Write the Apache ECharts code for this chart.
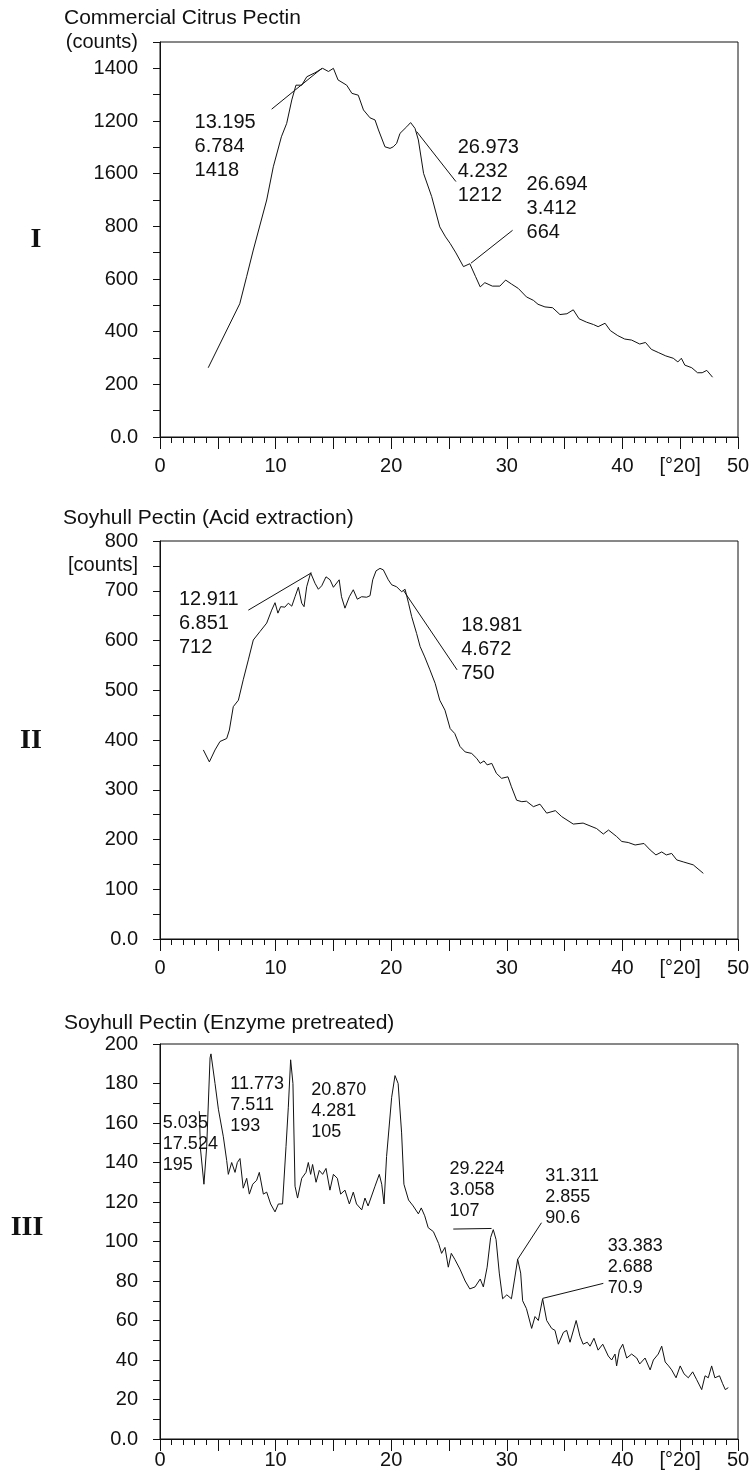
<!DOCTYPE html>
<html>
<head>
<meta charset="utf-8">
<script src="https://cdn.jsdelivr.net/npm/echarts@6/dist/echarts.min.js"></script>
<style>
html,body{margin:0;padding:0;background:#fff;}
#chart{width:753px;height:1480px;}
</style>
</head>
<body>
<div id="chart"></div>
<script>
// I : Commercial Citrus Pectin
var x1 = [4.17,6.9,7.5,8.07,9.23,9.8,10.5,10.96,11.4,11.76,12.26,12.7,13.4,14.07,14.57,15.0,15.4,16.15,16.6,17.15,17.6,18.17,18.6,18.9,19.46,19.9,20.18,20.47,20.76,21.34,21.68,22.06,22.35,22.8,23.5,24.2,24.7,25.1,25.6,26.25,26.8,27.3,27.7,28.1,28.75,29.4,29.9,30.4,31.0,31.7,32.3,32.7,33.3,33.96,34.6,35.2,35.75,36.25,36.9,37.5,37.9,38.5,38.96,39.6,40.2,40.8,41.5,42.0,42.5,43.1,43.75,44.4,44.8,45.1,45.4,46.0,46.5,46.9,47.3,47.8];
var y1 = [263,506,610,710,900,1026,1140,1191,1280,1336,1336,1368,1383,1400,1388,1400,1356,1336,1305,1298,1242,1212,1204,1166,1102,1096,1102,1115,1153,1178,1194,1172,1128,1001,913,798,760,735,699,647,658,609,570,586,573,573,596,581,564,532,519,504,494,491,465,468,483,449,436,427,419,432,404,385,372,368,353,359,333,321,308,299,285,299,273,263,244,244,253,227];

// II : Soyhull Pectin (Acid extraction)
var x2 = [3.75,4.27,4.76,5.19,5.77,6.0,6.34,6.78,7.2,7.64,8.07,8.65,9.23,9.66,9.95,10.2,10.44,10.8,11.1,11.4,11.68,11.97,12.26,12.46,12.69,13.03,13.41,13.7,13.99,14.36,14.71,15.0,15.5,15.7,16.0,16.38,16.72,17.07,17.44,17.88,18.17,18.4,18.69,19.03,19.32,19.75,20.04,20.47,20.9,21.2,21.5,21.77,22.2,22.5,22.9,23.35,23.8,24.2,24.65,25.1,25.5,25.95,26.4,26.96,27.4,27.7,28.03,28.3,28.7,29.1,29.55,30.1,30.4,30.85,31.3,31.7,32.3,32.87,33.45,34.2,34.75,35.75,36.6,37.77,38.35,38.8,39.5,39.95,40.5,41.1,41.87,42.4,42.9,43.4,43.8,44.26,44.7,45.26,46.13,47.0];
var y2 = [380,356,380,397,403,420,467,480,521,561,601,618,635,661,676,655,668,667,675,669,688,707,675,668,708,736,715,703,710,728,722,707,722,688,665,688,702,683,688,687,690,722,740,745,742,722,712,708,698,703,675,648,614,588,567,541,514,480,460,423,413,387,376,373,363,353,358,350,353,333,323,326,306,279,276,277,266,271,253,258,246,231,233,222,211,219,206,196,194,189,192,179,169,175,169,172,159,155,149,132];

// III : Soyhull Pectin (Enzyme pretreated)
var x3 = [3.4,3.5,3.8,4.04,4.33,4.41,4.76,5.05,5.48,5.77,5.91,6.2,6.49,6.69,6.92,7.2,7.5,7.73,8.02,8.36,8.59,8.94,9.23,9.57,9.95,10.24,10.6,10.9,11.1,11.3,11.5,11.68,11.9,12.26,12.63,12.83,13.03,13.2,13.5,13.78,14.07,14.36,14.7,15.0,15.34,15.63,16.0,16.38,16.72,17.0,17.45,17.73,18.0,18.6,18.97,19.18,19.38,19.6,20.04,20.33,20.6,20.9,21.1,21.5,21.9,22.35,22.6,22.9,23.2,23.65,24.1,24.36,24.65,24.94,25.2,25.5,25.95,26.4,26.8,27.25,27.7,27.97,28.3,28.6,28.83,29.07,29.35,29.64,30.0,30.4,30.7,30.94,31.2,31.37,31.7,32.15,32.44,32.73,33.1,33.45,33.88,34.17,34.46,34.9,35.18,35.47,36.0,36.33,36.6,36.96,37.2,37.54,37.9,38.3,38.78,39.07,39.36,39.5,39.74,40.03,40.37,40.8,41.24,41.5,41.96,42.4,42.68,43.1,43.4,43.7,44.0,44.26,44.64,45.0,45.33,45.7,46.08,46.43,46.86,47.15,47.43,47.72,48.0,48.4,48.67,48.9,49.16];
var y3 = [166,147,129,148,193,195,180,167,153,141,134,140,135,140,142,127,132,124,129,131,135,124,125,119,115,119,119,148,168,192,180,128,122,132,135,140,134,139,130,136,134,137,126,134,132,124,126,119,125,119,116,122,118,128,134,129,119,143,173,184,180,155,129,121,118,114,117,113,107,105,99,94,97,87,94,91,86,80,76,77,81,77,87,102,106,101,84,71,73,71,82,91,84,70,66,56,62,60,71,60,56,55,48,54,55,49,60,52,48,49,47,51,45,48,42,40,43,37,45,48,41,43,41,38,41,35,40,43,47,39,37,35,31,37,33,31,34,30,25,32,31,37,31,32,28,25,26];

// tick labels
var xTickVals = [0,10,20,30,40,45,50];
var xTickTexts = ['0','10','20','30','40','[°20]','50'];
var yTickVals1 = [0,200,400,600,800,1000,1200,1400,1500];
var yTickTexts1 = ['0.0','200','400','600','800','1600','1200','1400','(counts)'];
var yTickVals2 = [0,100,200,300,400,500,600,700,750,800];
var yTickTexts2 = ['0.0','100','200','300','400','500','600','700','[counts]','800'];
var yTickVals3 = [0,20,40,60,80,100,120,140,160,180,190,200];
var yTickTexts3 = ['0.0','20','40','60','80','100','120','140','160','180','[counts]','200'];

// peak notes
var notes1 = ['13.195\n6.784\n1418','26.973\n4.232\n1212','26.694\n3.412\n664'];
var notes2 = ['12.911\n6.851\n712','18.981\n4.672\n750'];
var notes3 = ['5.035\n17.524\n195','11.773\n7.511\n193','20.870\n4.281\n105','29.224\n3.058\n107','31.311\n2.855\n90.6','33.383\n2.688\n70.9'];

var FONT = '"Liberation Sans", Arial, sans-serif';
var INK = '#111';

function zip(xs, ys){
	var out = [];
	for (var i = 0; i < xs.length; i++) out.push([xs[i], ys[i]]);
	return out;
}
function pick(vals, texts){
	return function(v){
		for (var i = 0; i < vals.length; i++) if (Math.abs(vals[i] - v) < 1e-6) return texts[i];
		return '';
	};
}
function noteMarks(texts, anchors, lh, size){
	var d = [];
	for (var i = 0; i < texts.length; i++) {
		d.push({coord: anchors[i], label: {formatter: texts[i]}});
	}
	return {
		symbol: 'circle', symbolSize: 1, silent: true,
		itemStyle: {color: 'rgba(0,0,0,0)'},
		label: {show: true, position: [0, 0], align: 'left', verticalAlign: 'top',
			color: INK, fontFamily: FONT, fontSize: size, lineHeight: lh},
		data: d
	};
}
function leaders(segs){
	var d = [];
	for (var i = 0; i < segs.length; i++) d.push([{coord: segs[i][0]}, {coord: segs[i][1]}]);
	return {symbol: ['none','none'], silent: true, animation: false,
		lineStyle: {color: INK, width: 1, type: 'solid'}, label: {show: false}, data: d};
}
function xAx(i, margin){
	return {type: 'value', gridIndex: i, min: 0, max: 50, interval: 5,
		axisLine: {show: true, onZero: false, lineStyle: {color: INK, width: 1}},
		axisTick: {show: true, length: 12, lineStyle: {color: INK}},
		minorTick: {show: true, splitNumber: 5, length: 6, lineStyle: {color: INK}},
		splitLine: {show: false},
		axisLabel: {margin: margin, color: INK, fontFamily: FONT, fontSize: 20,
			showMinLabel: true, showMaxLabel: true, formatter: pick(xTickVals, xTickTexts)}};
}
function yAx(i, max, step, vals, texts){
	return {type: 'value', gridIndex: i, min: 0, max: max, interval: step,
		axisLine: {show: true, onZero: false, lineStyle: {color: INK, width: 1}},
		axisTick: {show: true, length: 7, lineStyle: {color: INK}},
		splitLine: {show: false},
		axisLabel: {margin: 22, color: INK, fontFamily: FONT, fontSize: 20,
			showMinLabel: true, showMaxLabel: true, formatter: pick(vals, texts)}};
}
function curve(i, data, marks, lines){
	return {type: 'line', xAxisIndex: i, yAxisIndex: i, data: data,
		symbol: 'none', smooth: false, animation: false,
		lineStyle: {color: INK, width: 1},
		markPoint: marks, markLine: lines};
}
function txt(s, x, y, font, align){
	return {type: 'text', x: x, y: y, silent: true,
		style: {text: s, font: font, fill: INK, align: align || 'left', verticalAlign: 'middle'}};
}

var myChart = echarts.init(document.getElementById('chart'), null, {renderer: 'canvas'});
var option = {
	backgroundColor: '#fff',
	animation: false,
	grid: [
		{left: 160, width: 578, top: 42, height: 395, show: true, borderColor: INK, borderWidth: 1},
		{left: 160, width: 578, top: 541, height: 398, show: true, borderColor: INK, borderWidth: 1},
		{left: 160, width: 578, top: 1044, height: 395, show: true, borderColor: INK, borderWidth: 1}
	],
	xAxis: [xAx(0, 19), xAx(1, 19), xAx(2, 11)],
	yAxis: [
		yAx(0, 1500, 100, yTickVals1, yTickTexts1),
		yAx(1, 800, 50, yTickVals2, yTickTexts2),
		yAx(2, 200, 10, yTickVals3, yTickTexts3)
	],
	series: [
		curve(0, zip(x1, y1),
			noteMarks(notes1, [[3.03,1237],[25.8,1143],[31.75,1002]], 24, 20),
			leaders([[[9.66,1245],[14.0,1400]], [[22.2,1160],[25.6,970]], [[26.9,660],[30.5,785]]])),
		curve(1, zip(x2, y2),
			noteMarks(notes2, [[1.68,705],[26.1,653]], 24, 20),
			leaders([[[7.64,661],[13.1,736]], [[21.05,701],[25.7,541]]])),
		curve(2, zip(x3, y3),
			noteMarks(notes3, [[0.29,165],[6.12,185],[13.12,182],[25.09,142],[33.37,138],[38.78,103]], 21, 18),
			leaders([[[25.37,106.3],[28.68,106.6]], [[33.0,109.5],[30.92,90.8]], [[38.35,78.8],[33.1,71.2]]]))
	],
	graphic: [
		txt('Commercial Citrus Pectin', 64, 18, '21px ' + FONT),
		txt('Soyhull Pectin (Acid extraction)', 63, 518, '21px ' + FONT),
		txt('Soyhull Pectin (Enzyme pretreated)', 64, 1023, '21px ' + FONT),
		txt('I', 36, 240, 'bold 28px "Liberation Serif", "Times New Roman", serif', 'center'),
		txt('II', 31, 741, 'bold 28px "Liberation Serif", "Times New Roman", serif', 'center'),
		txt('III', 27, 1228, 'bold 28px "Liberation Serif", "Times New Roman", serif', 'center')
	]
};
myChart.setOption(option);
</script>
</body>
</html>
